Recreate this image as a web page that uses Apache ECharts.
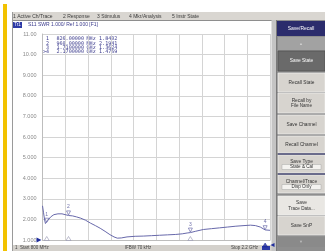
<!DOCTYPE html>
<html><head><meta charset="utf-8">
<script src="https://cdn.jsdelivr.net/npm/echarts@6/dist/echarts.min.js"></script>
<style>html,body{margin:0;padding:0;background:#fff}#c{width:325px;height:251px}</style>
</head><body><div id="c"></div>
<script>
// ---- data ----
const freqMHz = [800, 806, 812, 818, 822, 826, 835, 850, 870, 895, 920, 945, 960, 985, 1010, 1035, 1065, 1095, 1125, 1155, 1185, 1215, 1240, 1260, 1285, 1320, 1370, 1420, 1470, 1520, 1570, 1620, 1660, 1690, 1710, 1740, 1790, 1840, 1890, 1940, 1990, 2040, 2080, 2110, 2140, 2170, 2200];
const swr = [2.66, 2.35, 2.02, 1.80, 1.74, 1.84, 1.97, 2.12, 2.23, 2.27, 2.27, 2.22, 2.19, 2.17, 2.12, 2.06, 1.96, 1.82, 1.70, 1.57, 1.42, 1.26, 1.15, 1.09, 1.10, 1.15, 1.18, 1.19, 1.21, 1.23, 1.25, 1.27, 1.30, 1.34, 1.36, 1.42, 1.51, 1.55, 1.59, 1.63, 1.67, 1.70, 1.72, 1.70, 1.63, 1.49, 1.47];
const markerNames = ['1', '2', '3', '4'];
const markerRowLabels = ['1', '2', '3', '>4'];
const markerFreq = [826, 960, 1710, 2170];
const markerFreqText = ['826.00000', '960.00000', '1.7100000', '2.1700000'];
const markerUnitText = ['MHz', 'MHz', 'GHz', 'GHz'];
const markerSwr = [1.8402, 2.1941, 1.3624, 1.4769];
const yTicks = [1, 2, 3, 4, 5, 6, 7, 8, 9, 10, 11];
const menuItems = ['1 Active Ch/Trace', '2 Response', '3 Stimulus', '4 Mkr/Analysis', '5 Instr State'];
const softkeys = [['Save State'], ['Recall State'], ['Recall by', 'File Name'], ['Save Channel'], ['Recall Channel'], ['Save Type', 'State & Cal'], ['Channel/Trace', 'Disp Only'], ['Save', 'Trace Data...'], ['Save SnP']];
const traceTitle = 'S11 SWR 1.000/ Ref 1.000 [F1]';
const statusLeft = '1  Start 800 MHz';
const statusMid = 'IFBW 70 kHz';
const statusRight = 'Stop 2.2 GHz';

// ---- chrome layout ----
const SANS = 'Liberation Sans, Arial, sans-serif';
const MONO = 'DejaVu Sans Mono, monospace';
const g = [];
g.push({type:'rect', shape:{x:3,y:4,width:4,height:247}, style:{fill:'#f2c200'}, silent:true});
g.push({type:'rect', shape:{x:12,y:12,width:313,height:8}, style:{fill:'#d9d6d1'}, silent:true});
g.push({type:'line', shape:{x1:12,y1:20.5,x2:277,y2:20.5}, style:{stroke:'#8e8e8e',lineWidth:1}, silent:true});
g.push({type:'line', shape:{x1:12.5,y1:12,x2:12.5,y2:251}, style:{stroke:'#9a9a9a',lineWidth:1}, silent:true});
const menuX = [13, 63, 97, 129, 172];
menuItems.forEach((t,i)=>g.push({type:'text', x:menuX[i], y:16.5, style:{text:t, fontSize:5, fontFamily:SANS, fill:'#3a3a3a', verticalAlign:'middle'}, silent:true}));
// trace title
g.push({type:'rect', shape:{x:13,y:22,width:9,height:6}, style:{fill:'#2d3aa6'}, silent:true});
g.push({type:'text', x:17.5, y:25, style:{text:'Tr1', fontSize:4.5, fontFamily:SANS, fill:'#ffffff', align:'center', verticalAlign:'middle'}, silent:true});
g.push({type:'text', x:28, y:25, style:{text:traceTitle, fontSize:5, fontFamily:SANS, fill:'#3a3a8c', verticalAlign:'middle'}, silent:true});
// marker readout
markerRowLabels.forEach((t,i)=>{
  const y = 39 + i*4.35;
  g.push({type:'text', x:49, y:y, style:{text:t, fontSize:5, fontFamily:MONO, fill:'#3a3a8c', align:'right', verticalAlign:'middle'}, silent:true});
  g.push({type:'text', x:84, y:y, style:{text:markerFreqText[i], fontSize:5.1, fontFamily:MONO, fill:'#3a3a8c', align:'right', verticalAlign:'middle'}, silent:true});
  g.push({type:'text', x:86.5, y:y, style:{text:markerUnitText[i], fontSize:5.1, fontFamily:MONO, fill:'#3a3a8c', verticalAlign:'middle'}, silent:true});
  g.push({type:'text', x:99, y:y, style:{text:markerSwr[i].toFixed(4), fontSize:5.1, fontFamily:MONO, fill:'#3a3a8c', verticalAlign:'middle'}, silent:true});
});
// status bar
g.push({type:'rect', shape:{x:13,y:245,width:264,height:6}, style:{fill:'#d4d1cc'}, silent:true});
g.push({type:'text', x:15, y:248, style:{text:statusLeft, fontSize:4.5, fontFamily:SANS, fill:'#444', verticalAlign:'middle'}, silent:true});
g.push({type:'text', x:138, y:248, style:{text:statusMid, fontSize:4.5, fontFamily:SANS, fill:'#444', align:'center', verticalAlign:'middle'}, silent:true});
g.push({type:'text', x:258, y:248, style:{text:statusRight, fontSize:4.5, fontFamily:SANS, fill:'#444', align:'right', verticalAlign:'middle'}, silent:true});
g.push({type:'rect', shape:{x:262,y:246,width:8,height:4}, style:{fill:'#2d3aa6'}, silent:true});
// separator frame
g.push({type:'rect', shape:{x:271.5,y:20,width:5.5,height:231}, style:{fill:'#c4c4c4'}, silent:true});
g.push({type:'line', shape:{x1:276.5,y1:20,x2:276.5,y2:251}, style:{stroke:'#7a7a7a',lineWidth:1}, silent:true});
// softkey panel
g.push({type:'rect', shape:{x:277,y:20,width:48,height:231}, style:{fill:'#8e8e8e'}, silent:true});
g.push({type:'rect', shape:{x:277,y:21,width:48,height:15}, style:{fill:'#2b2c6c'}, silent:true});
g.push({type:'text', x:301, y:28.5, style:{text:'Save/Recall', fontSize:5, fontFamily:SANS, fill:'#ffffff', align:'center', verticalAlign:'middle'}, silent:true});
g.push({type:'rect', shape:{x:278,y:37,width:47,height:13}, style:{fill:'#a2a2a2'}, silent:true});
g.push({type:'text', x:301, y:43.5, style:{text:'\u25B2', fontSize:4, fontFamily:SANS, fill:'#d0d0d0', align:'center', verticalAlign:'middle'}, silent:true});
const keyY = [51, 73, 93, 115, 136, 155, 175, 196, 216];
const keyH = [20, 19, 20, 19, 17, 18, 18, 19, 19];
softkeys.forEach((lines,i)=>{
  const sel = i === 0;
  const fill = sel ? '#6a6a6a' : (i === 7 ? '#e9e7e3' : '#d7d4cf');
  g.push({type:'rect', shape:{x:278,y:keyY[i],width:47,height:keyH[i]}, style:{fill:fill, stroke:sel?'#4a4a4a':'#f4f4f4', lineWidth:0.6}, silent:true});
  const cy = keyY[i] + keyH[i]/2;
  if (lines.length === 1) {
    g.push({type:'text', x:301.5, y:cy, style:{text:lines[0], fontSize:4.8, fontFamily:SANS, fill:sel?'#ffffff':'#333', align:'center', verticalAlign:'middle'}, silent:true});
  } else {
    const boxed = (i === 5 || i === 6);
    if (boxed) g.push({type:'rect', shape:{x:282,y:cy+0.5,width:39,height:5}, style:{fill:'#f4f3f0', stroke:'#9a9a9a', lineWidth:0.4}, silent:true});
    g.push({type:'text', x:301.5, y:cy-2.6, style:{text:lines[0], fontSize:4.8, fontFamily:SANS, fill:'#333', align:'center', verticalAlign:'middle'}, silent:true});
    g.push({type:'text', x:301.5, y:cy+3, style:{text:lines[1], fontSize:4.6, fontFamily:SANS, fill:'#333', align:'center', verticalAlign:'middle'}, silent:true});
  }
});
g.push({type:'line', shape:{x1:278,y1:154,x2:325,y2:154}, style:{stroke:'#2b2c6c',lineWidth:1}, silent:true});
g.push({type:'line', shape:{x1:278,y1:174,x2:325,y2:174}, style:{stroke:'#2b2c6c',lineWidth:1}, silent:true});
g.push({type:'rect', shape:{x:278,y:237,width:47,height:10}, style:{fill:'#8a8a8a'}, silent:true});
g.push({type:'text', x:301, y:242, style:{text:'\u25BC', fontSize:4, fontFamily:SANS, fill:'#bdbdbd', align:'center', verticalAlign:'middle'}, silent:true});

const chart = echarts.init(document.getElementById('c'), null, {renderer:'canvas'});
chart.setOption({
  backgroundColor:'#ffffff',
  animation:false,
  grid:{left:42.5, right:55, top:34, bottom:11},
  xAxis:{type:'value', min:800, max:2200, interval:140,
    axisLabel:{show:false}, axisTick:{show:false},
    axisLine:{show:true, lineStyle:{color:'#bdbdbd', width:1}},
    splitLine:{show:true, lineStyle:{color:'#d4d4d4', width:1}}},
  yAxis:{type:'value', min:yTicks[0], max:yTicks[yTicks.length-1], interval:1,
    axisLabel:{color:'#8a8a8a', fontSize:5.5, fontFamily:SANS, margin:6,
      formatter:v => v >= 10 ? v.toFixed(2) : v.toFixed(3)},
    axisTick:{show:false},
    axisLine:{show:true, lineStyle:{color:'#bdbdbd', width:1}},
    splitLine:{show:true, lineStyle:{color:'#d4d4d4', width:1}}},
  graphic:g,
  series:[
    {type:'line', data:freqMHz.map((f,i)=>[f, swr[i]]), showSymbol:false, smooth:false,
      lineStyle:{color:'#6768aa', width:1}, z:5,
      markPoint:{silent:true, data:[
        {coord:[800,1], symbol:'triangle', symbolSize:[5,5], symbolRotate:-90, symbolOffset:[-3.5,0], itemStyle:{color:'#1f2d9c'}, label:{show:false}},
        {coord:[2200,1], symbol:'triangle', symbolSize:[4,4], symbolRotate:90, symbolOffset:[2.5,5], itemStyle:{color:'#1f2d9c'}, label:{show:false}}
      ]}},
    {type:'scatter', data:markerFreq.map((f,i)=>({value:[f, markerSwr[i]], name:markerNames[i]})),
      symbol:'triangle', symbolRotate:180, symbolSize:[4,4], symbolOffset:[0,-2.5],
      itemStyle:{color:'#ffffff', borderColor:'#4b4c96', borderWidth:0.7}, z:6,
      label:{show:true, position:'top', distance:1, formatter:p=>p.name, fontSize:5, fontFamily:SANS, color:'#4b4c96'}},
    {type:'scatter', data:markerFreq.map((f,i)=>({value:[f, 1], itemStyle: i===3 ? {color:'#1f2d9c', borderColor:'#1f2d9c'} : {color:'#ffffff', borderColor:'#8a8aa8'}, symbolOffset: i===3 ? [0,5] : [0,-1.5]})),
      symbol:'triangle', symbolSize:[5,4], itemStyle:{borderWidth:0.7}, z:6, clip:false}
  ]
});
</script></body></html>
